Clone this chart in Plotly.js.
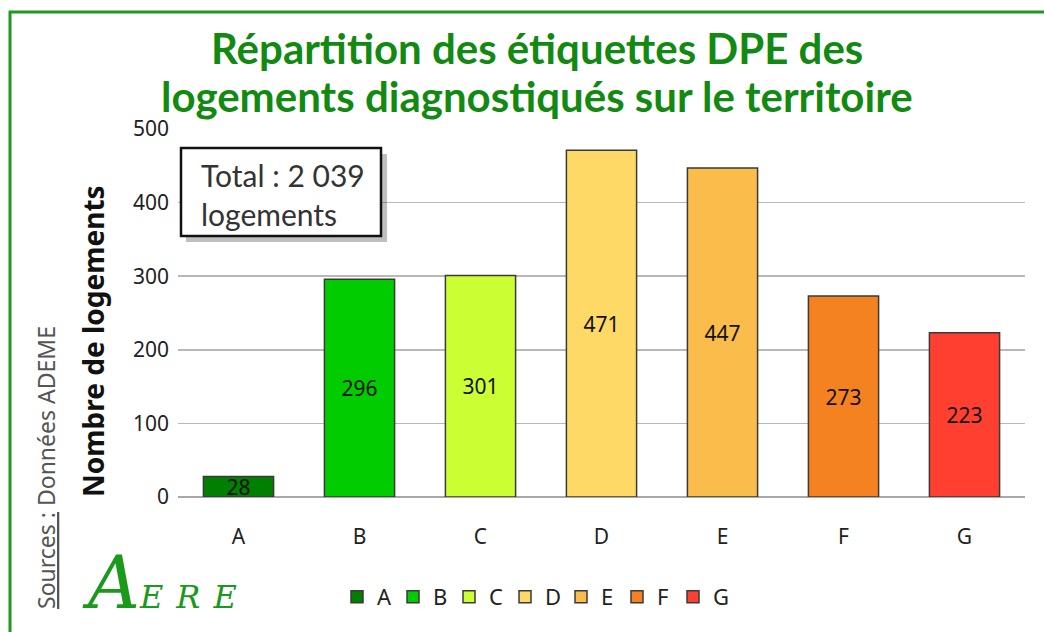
<!DOCTYPE html>
<html><head><meta charset="utf-8">
<script src="https://cdn.plot.ly/plotly-3.0.1.min.js"></script>
<style>html,body{margin:0;padding:0;background:#fff;}#chart{width:1044px;height:632px;}</style>
</head><body><div id="chart"></div>
<script>
const categories = ['A','B','C','D','E','F','G'];
const values = [28, 296, 301, 471, 447, 273, 223];
const colors = ['#007f00','#00cc00','#ccff33','#ffd966','#fabc4a','#f58220','#ff3f2f'];
const yTicks = [0,100,200,300,400,500];
const titleLine1 = 'Répartition des étiquettes DPE des';
const titleLine2 = 'logements diagnostiqués sur le territoire';
const yTitle = 'Nombre de logements';
const totalText = 'Total : 2 039<br>logements';

const traces = categories.map((c,i)=>({
  type:'bar', name:c, x:[c], y:[values[i]],
  text:[String(values[i])], textposition:'inside', insidetextanchor:'middle',
  constraintext:'none', textangle:0,
  textfont:{family:'Noto Sans, sans-serif', size:21, color:'#111'},
  marker:{color:colors[i], line:{color:'#3a3a3a', width:1.5}},
  hoverinfo:'x+y'
}));

const W=847, H=368, L=178, T=129;
const px = x => (x-L)/W;
const py = y => (T+H-y)/H;

const layout = {
  width:1044, height:632,
  margin:{l:L, r:1044-L-W, t:T, b:632-T-H},
  paper_bgcolor:'#fff', plot_bgcolor:'#fff',
  barmode:'relative', bargap:0.42,
  showlegend:true,
  legend:{orientation:'h', x:px(337), xanchor:'left', y:py(597), yanchor:'middle',
    font:{family:'Liberation Sans Narrow, Noto Sans, sans-serif', size:22, color:'#222'},
    itemwidth:30, entrywidth:11, entrywidthmode:'pixels', tracegroupgap:0},
  font:{family:'Noto Sans, sans-serif'},
  xaxis:{type:'category', categoryarray:categories, tickfont:{size:21, color:'#222'}, showline:false, ticks:'', showgrid:false, ticklabelstandoff:25},
  yaxis:{range:[0,500], tickvals:yTicks, tickfont:{size:21, color:'#222'}, showgrid:true, gridcolor:'#b8b8b8', gridwidth:1.5,
    zeroline:true, zerolinecolor:'#a8a8a8', zerolinewidth:1.5, ticks:'', ticklen:0, ticklabelstandoff:8},
  shapes:[
    {type:'line', xref:'paper', yref:'paper', x0:px(9), x1:px(1044), y0:py(12), y1:py(12), line:{color:'#1e9a1e', width:3}},
    {type:'line', xref:'paper', yref:'paper', x0:px(10), x1:px(10), y0:py(11), y1:py(632), line:{color:'#1e9a1e', width:3}},
    {type:'rect', xref:'paper', yref:'paper', x0:px(186), x1:px(387), y0:py(154), y1:py(242), line:{width:0}, fillcolor:'rgba(0,0,0,0.25)'},
    {type:'rect', xref:'paper', yref:'paper', x0:px(181), x1:px(381), y0:py(148), y1:py(236), line:{color:'#111', width:2.5}, fillcolor:'#fff'}
  ],
  annotations:[
    {text:'<b>'+titleLine1+'</b>', xref:'paper', yref:'paper', x:px(537), y:py(48), xanchor:'center', yanchor:'middle', showarrow:false,
     font:{family:'Lato, sans-serif', size:42, color:'#128a12'}},
    {text:'<b>'+titleLine2+'</b>', xref:'paper', yref:'paper', x:px(537), y:py(96), xanchor:'center', yanchor:'middle', showarrow:false,
     font:{family:'Lato, sans-serif', size:42, color:'#128a12'}},
    {text:'<b>'+yTitle+'</b>', xref:'paper', yref:'paper', x:px(93), y:py(341), textangle:-90, xanchor:'center', yanchor:'middle', showarrow:false,
     font:{family:'Noto Sans, sans-serif', size:28, color:'#111'}},
    {text:totalText, xref:'paper', yref:'paper', x:px(199), y:py(194), xanchor:'left', yanchor:'middle', align:'left', showarrow:false,
     font:{family:'Lato, sans-serif', size:30, color:'#333'}},
    {text:'<span style="text-decoration:underline">Sources :</span> Données ADEME', xref:'paper', yref:'paper', x:px(46), y:py(468), textangle:-90,
     xanchor:'center', yanchor:'middle', showarrow:false, font:{family:'Noto Sans, sans-serif', size:23, color:'#555'}},
    {text:'<i><span style="font-size:72px">A</span><span style="letter-spacing:13px">ERE</span></i>', xref:'paper', yref:'paper', x:px(80), y:py(583), xanchor:'left', yanchor:'middle', showarrow:false,
     font:{family:'DejaVu Serif, serif', size:32, color:'#1a9a1a'}}
  ]
};

Plotly.newPlot('chart', traces, layout, {displayModeBar:false, staticPlot:true});
</script></body></html>
